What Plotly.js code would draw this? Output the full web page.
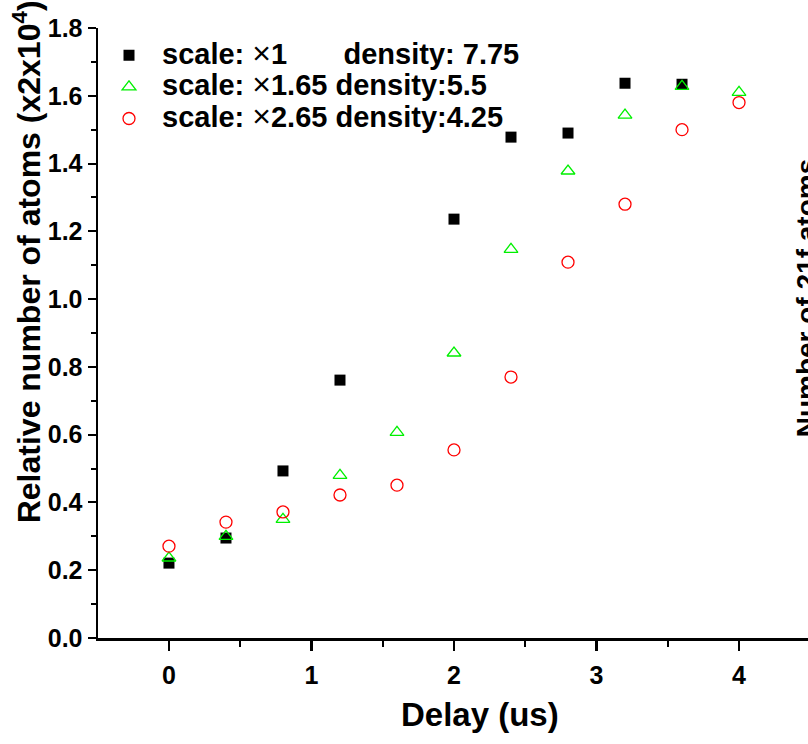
<!DOCTYPE html>
<html>
<head>
<meta charset="utf-8">
<script src="https://cdn.plot.ly/plotly-3.0.1.min.js"></script>
<style>html,body{margin:0;padding:0;background:#fff;overflow:hidden;}#chart{width:808px;height:744px;}</style>
</head>
<body>
<div id="chart"></div>
<script>
// ---- data ----
const delaySquare = [0, 0.4, 0.8, 1.2, 2.0, 2.4, 2.8, 3.2, 3.6];
const atomsSquare = [0.221, 0.295, 0.493, 0.761, 1.236, 1.478, 1.490, 1.637, 1.634];

const delayTriangle = [0, 0.4, 0.8, 1.2, 1.6, 2.0, 2.4, 2.8, 3.2, 3.6, 4.0];
const atomsTriangle = [0.236, 0.300, 0.350, 0.480, 0.607, 0.841, 1.147, 1.378, 1.543, 1.628, 1.610];

const delayCircle = [0, 0.4, 0.8, 1.2, 1.6, 2.0, 2.4, 2.8, 3.2, 3.6, 4.0];
const atomsCircle = [0.271, 0.342, 0.372, 0.422, 0.451, 0.555, 0.770, 1.109, 1.280, 1.500, 1.580];

const scaleLabels = ["1", "1.65", "2.65"];
const densityLabels = ["\u00A0\u00A0\u00A0\u00A0\u00A0\u00A0 density: 7.75", " density:5.5", " density:4.25"];
const xTitle = "Delay (us)";
const yTitle = "Relative number of atoms (x2x10<sup>4</sup>)";
const y2Title = "Number of 21f atoms";

const legendName = i =>
  "<span style='font-size:29px'>scale: </span>" +
  "<span style='font-size:32px;font-weight:normal'>\u00D7</span>" +
  "<span style='font-size:29px'>" + scaleLabels[i] + densityLabels[i] + "</span>";

// ---- layout helpers (pixel -> paper) ----
const W = 808, H = 744;
const mL = 98, mR = 0, mT = 27.5, mB = 106;
const pw = W - mL - mR, ph = H - mT - mB;
const px = v => (v - mL) / pw;
const py = v => (H - mB - v) / ph;

const FONT = "Liberation Sans, Arial, Helvetica, sans-serif";

const traces = [
  {x: delaySquare, y: atomsSquare, name: legendName(0), type: "scatter", mode: "markers",
   marker: {symbol: "square", size: 11, color: "#000000", line: {width: 0}}},
  {x: delayTriangle, y: atomsTriangle, name: legendName(1), type: "scatter", mode: "markers",
   marker: {symbol: "triangle-up-open", size: 12, color: "#00f000", line: {width: 1.3, color: "#00f000"}}},
  {x: delayCircle, y: atomsCircle, name: legendName(2), type: "scatter", mode: "markers",
   marker: {symbol: "circle-open", size: 12, color: "#ff0000", line: {width: 1.3, color: "#ff0000"}}}
];

const layout = {
  width: W, height: H,
  margin: {l: mL, r: mR, t: mT, b: mB, pad: 0},
  paper_bgcolor: "#ffffff", plot_bgcolor: "#ffffff",
  font: {family: FONT, size: 24, color: "#000000", weight: "bold"},
  showlegend: true,
  legend: {
    x: px(96), y: py(34), xanchor: "left", yanchor: "top",
    bgcolor: "rgba(0,0,0,0)", borderwidth: 0,
    itemwidth: 56,
    font: {family: FONT, size: 22, color: "#000", weight: "bold"},
    tracegroupgap: 0
  },
  xaxis: {
    range: [-0.498, 4.484], showgrid: false, zeroline: false,
    showline: true, linecolor: "#000", linewidth: 2.5,
    ticks: "outside", ticklen: 10, tickwidth: 2.5, tickcolor: "#000",
    tickmode: "linear", tick0: 0, dtick: 1,
    minor: {dtick: 0.5, tick0: 0, ticks: "outside", ticklen: 6, tickwidth: 2, tickcolor: "#000"},
    tickfont: {family: FONT, size: 25, color: "#000", weight: "bold"},
    ticklabelstandoff: 3
  },
  yaxis: {
    range: [0, 1.8], showgrid: false, zeroline: false,
    showline: true, linecolor: "#000", linewidth: 2.5,
    ticks: "outside", ticklen: 8, tickwidth: 2, tickcolor: "#000",
    tickmode: "linear", tick0: 0, dtick: 0.2, tickformat: ".1f",
    minor: {dtick: 0.1, tick0: 0, ticks: "outside", ticklen: 5, tickwidth: 2, tickcolor: "#000"},
    tickfont: {family: FONT, size: 25, color: "#000", weight: "bold"}
  },
  annotations: [
    {text: xTitle, xref: "paper", yref: "paper", x: px(480), y: py(715),
     xanchor: "center", yanchor: "middle", showarrow: false,
     font: {family: FONT, size: 33, color: "#000", weight: "bold"}},
    {text: yTitle, xref: "paper", yref: "paper", x: px(27), y: py(262),
     xanchor: "center", yanchor: "middle", showarrow: false, textangle: -90,
     font: {family: FONT, size: 32, color: "#000", weight: "bold"}},
    {text: y2Title, xref: "paper", yref: "paper", x: px(806), y: py(298),
     xanchor: "center", yanchor: "middle", showarrow: false, textangle: -90,
     font: {family: FONT, size: 28, color: "#000", weight: "bold"}}
  ]
};

Plotly.newPlot("chart", traces, layout, {displayModeBar: false, staticPlot: true});
</script>
</body>
</html>
